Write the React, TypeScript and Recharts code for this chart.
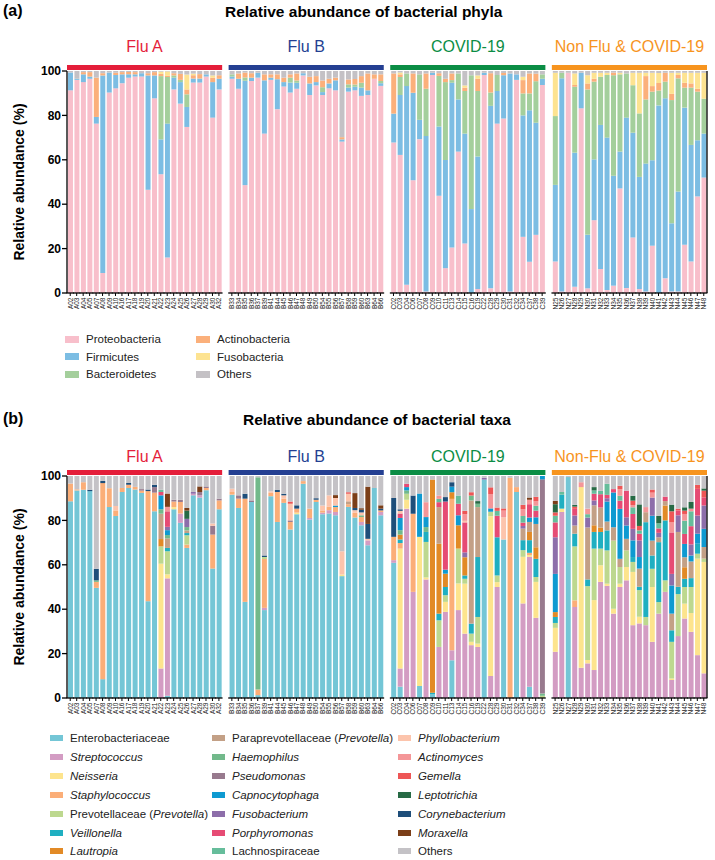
import React from 'react';
import { BarChart, Bar, XAxis, YAxis, ReferenceArea } from 'recharts';

const fluA = ['A02', 'A03', 'A04', 'A05', 'A07', 'A08', 'A09', 'A10', 'A16', 'A17', 'A18', 'A19', 'A20', 'A21', 'A22', 'A23', 'A24', 'A25', 'A26', 'A27', 'A28', 'A29', 'A30', 'A32'];
const fluB = ['B33', 'B34', 'B35', 'B36', 'B37', 'B39', 'B41', 'B44', 'B45', 'B46', 'B47', 'B48', 'B49', 'B50', 'B54', 'B55', 'B56', 'B57', 'B58', 'B59', 'B60', 'B63', 'B64', 'B66'];
const covid = ['C02', 'C03', 'C04', 'C06', 'C07', 'C08', 'C09', 'C10', 'C11', 'C13', 'C14', 'C15', 'C16', 'C19', 'C22', 'C28', 'C29', 'C30', 'C31', 'C32', 'C34', 'C37', 'C38', 'C39'];
const nonFlu = ['N25', 'N26', 'N27', 'N28', 'N29', 'N30', 'N31', 'N32', 'N33', 'N34', 'N35', 'N36', 'N37', 'N38', 'N39', 'N40', 'N41', 'N42', 'N43', 'N44', 'N45', 'N46', 'N47', 'N48'];

const groupNamesA = ['Flu A', 'Flu B', 'COVID-19', 'Non Flu & COVID-19'];
const groupNamesB = ['Flu A', 'Flu B', 'COVID-19', 'Non-Flu & COVID-19'];
const groupColors = ['#E41E3A', '#243F92', '#0B8D45', '#F7941E'];

// ---- panel (a): phyla, % per sample (Flu A / Flu B / COVID / Non-flu rows) ----
const proteobacteria = [
  91.3, 96, 95, 96.5, 76.3, 9, 90.3, 92.2, 94.5, 97, 97.5, 97.5, 46.5, 87.7, 53.5, 16, 91.7, 85.3, 74.8, 94.8, 94.8, 97.5, 79, 91.7,
  96.5, 92, 48.6, 95.5, 97, 71.8, 96, 82.8, 93, 90.3, 92, 98, 89.2, 93.5, 89.2, 92.2, 91.3, 68.2, 90.7, 91.3, 88.8, 89.2, 96.5, 93.3,
  67.8, 62.2, 3.7, 50.8, 69.3, 0.7, 98.2, 43.8, 11.2, 20.5, 63.7, 22.3, 0, 1.8, 98.2, 2.1, 76.3, 78.6, 0.7, 96, 25.3, 14.1, 26.2, 93.7,
  14.2, 0.7, 99.2, 2.8, 83.2, 2.1, 32.8, 10.8, 1.3, 3.3, 47.1, 2.2, 25, 1.8, 0.7, 21.3, 0, 6.6, 0.7, 0.7, 21.7, 14.2, 43.5, 52,
];
const firmicutes = [
  8, 0.5, 3.5, 1, 3, 89, 9, 6, 4, 1.5, 1, 1.5, 51.5, 10.3, 15.7, 60.3, 5.3, 9.7, 9, 1.8, 1.8, 1, 16, 4.8,
  1, 4.5, 47, 1.5, 2.2, 24, 1, 13.5, 2, 4.5, 2.7, 1, 5.2, 1.5, 1.3, 2.2, 4.5, 1, 1.8, 1.6, 3.7, 2.1, 0, 1.2,
  13, 27, 89.5, 39.4, 8.7, 70, 1, 31.2, 48.7, 74.2, 23.5, 49.5, 37.8, 59.7, 1, 82.2, 14.7, 19.5, 98.2, 2.5, 54.7, 68.2, 50.5, 2.8,
  34.5, 96, 0, 60.4, 16, 24.1, 27.4, 64.9, 68.7, 49.5, 16.6, 76.8, 47.2, 50.5, 57.6, 38.5, 84.5, 81.1, 30.7, 45, 61.8, 52.5, 25.3, 19.8,
];
const bacteroidetes = [
  0, 0, 0, 0, 0, 0, 0, 0, 0, 0, 0, 0, 0, 0, 28.5, 21, 1, 1, 5.7, 0, 0, 0, 0, 0,
  1, 0, 1.5, 0, 0, 0, 0, 0, 0, 2.2, 1, 0, 0, 0, 2.2, 0, 0, 0, 1.5, 1, 2.2, 0, 0, 1,
  0, 8.1, 5.7, 0, 20.5, 21.3, 0, 22.8, 35.1, 1.2, 11.7, 19.2, 60.3, 29.5, 0, 6, 7.2, 0, 0, 0, 9.9, 7.6, 18.7, 2,
  31, 2.5, 0, 29.7, 0, 65.5, 35, 21.7, 28.2, 45.3, 34.8, 19.9, 21.4, 28.6, 28.9, 30.9, 6.7, 7.5, 55.5, 51, 9, 25.8, 21.9, 15.7,
];
const actinobacteria = [
  0, 0, 1, 2, 17.7, 1, 0, 1, 1, 1, 1, 0, 1, 1.5, 1, 0.5, 1, 2.7, 2.2, 1.5, 2, 0, 2, 1.6,
  0, 2.4, 2.2, 2, 0, 2.7, 1.5, 2.2, 2, 1.5, 3.2, 0, 3, 2.7, 3, 2.1, 1.2, 1, 2.2, 2.5, 3, 7.6, 2, 3,
  18.1, 1.2, 0, 8.7, 0, 6.9, 0, 1.2, 1.5, 3, 0, 1.5, 0, 5.5, 0, 8.7, 0, 1, 0, 0, 6, 9, 3.4, 0,
  0, 0, 0, 0.8, 0, 2.7, 1.3, 0, 0, 1.2, 0, 0, 0, 0, 10.5, 2.5, 3.4, 4, 2.8, 1.5, 2.2, 1.9, 1.3, 0,
];
const fusobacteria = [
  0, 0, 0, 0, 0, 0, 0, 0, 0, 0, 0, 0, 0, 0, 1, 2, 0, 0, 6.7, 0.7, 0, 0, 1, 0,
  0, 0, 0, 0, 0, 0, 0, 0, 0, 0, 0, 0, 0, 0, 0, 0, 0, 0, 0, 0, 0, 0, 0, 0,
  0, 0.8, 0, 0, 0, 0, 0, 0, 0, 0, 0, 1, 0, 1.5, 0, 0, 0, 0, 0, 0, 1.5, 0, 0, 0,
  19.5, 0, 0, 5.2, 0, 3.7, 2.7, 1.8, 1, 0, 0.7, 0, 5.6, 18.3, 1.5, 6, 4.5, 0, 9.5, 1, 4.5, 4.8, 7.2, 11.7,
];
const otherPhyla = [
  0.7, 3.5, 0.5, 0.5, 3, 1, 0.7, 0.8, 0.5, 0.5, 0.5, 1, 1, 0.5, 0.3, 0.2, 1, 1.3, 1.6, 1.2, 1.4, 1.5, 2, 1.9,
  1.5, 1.1, 0.7, 1, 0.8, 1.5, 1.5, 1.5, 3, 1.5, 1.1, 1, 2.6, 2.3, 4.3, 3.5, 3, 29.8, 3.8, 3.6, 2.3, 1.1, 1.5, 1.5,
  1.1, 0.7, 1.1, 1.1, 1.5, 1.1, 0.8, 1, 3.5, 1.1, 1.1, 6.5, 1.9, 2, 0.8, 1, 1.8, 0.9, 1.1, 1.5, 2.6, 1.1, 1.2, 1.5,
  0.8, 0.8, 0.8, 1.1, 0.8, 1.9, 0.8, 0.8, 0.8, 0.7, 0.8, 1.1, 0.8, 0.8, 0.8, 0.8, 0.9, 0.8, 0.8, 0.8, 0.8, 0.8, 0.8, 0.8,
];

// ---- panel (b): taxa ----
const enterobacteriaceae = [
  88.6, 93.5, 93.8, 93.2, 49.6, 8.5, 86, 82, 92.8, 94.6, 93.9, 92.4, 43.6, 84.1, 0, 1, 85, 78.9, 67.6, 91.3, 90.3, 93.6, 58.3, 85,
  91.6, 85.6, 43.3, 88.3, 1.3, 39.6, 90.9, 79.3, 87.9, 75.9, 82.8, 96.5, 80.4, 88.3, 82.8, 83.1, 82.3, 54.9, 86.1, 81.3, 77.8, 68.8, 94.6, 82.3,
  60.9, 5.1, 0, 0, 5.4, 0, 1.8, 0, 0, 17, 0, 0, 0, 0, 98.4, 0, 0, 71.4, 0, 92.8, 0, 5.1, 0, 0,
  0, 0, 99.5, 0, 0, 0, 0, 0, 0, 0, 0, 0, 0, 0, 0, 0, 0, 0, 0, 0, 0, 0, 0, 0,
];
const streptococcus = [
  0, 0, 0, 0, 0, 0, 0, 0, 0, 0, 0, 0, 0, 0, 13.3, 52.9, 0, 4.2, 0, 0.7, 1, 0, 0, 0,
  0, 0, 0, 0, 0, 1, 0, 0, 0, 0, 0, 0, 0.7, 0, 0.7, 1.5, 1.5, 0, 0, 0, 1.5, 2.2, 0, 1.5,
  1.2, 8.2, 85.3, 47.8, 0, 53.4, 0, 23, 38.8, 4.5, 39.6, 29, 23.8, 23, 0, 9.9, 50, 0, 0, 0, 42.6, 58.5, 36.1, 0,
  20.8, 83.8, 0, 41, 13.6, 15.6, 12.6, 52.3, 50.5, 38, 50, 53, 32.8, 33.6, 32.8, 25.3, 38, 47.8, 8.1, 27.9, 35.8, 29.8, 19.3, 11.1,
];
const neisseria = [
  0, 0, 0, 0, 0, 0, 0, 0, 0, 0, 0, 0, 0, 0, 47.2, 1.8, 1, 0, 0, 0, 0, 0, 0, 0,
  0, 0, 0, 0, 0, 0, 0, 0, 0, 0, 0.7, 0, 0, 0, 0, 0, 0, 0.7, 0, 0, 0, 0, 0, 0,
  0, 54, 4, 0, 67.2, 0.9, 0, 0, 4.5, 0, 12, 22.5, 1.5, 1.5, 0, 72, 2.2, 0, 0, 0, 21, 0.8, 16.2, 0,
  10.8, 1.5, 0, 0, 81.4, 1.5, 31.5, 7.5, 1, 2.2, 1.5, 6, 24, 3, 0, 24.7, 0, 0, 0.7, 0, 6.7, 8.5, 43.5, 50.2,
];
const staphylococcus = [
  8, 0.5, 3.4, 0, 2.7, 88.3, 8.5, 2.5, 1.8, 1.5, 1.2, 1, 49.6, 8.4, 0, 0, 2.5, 5.2, 1.5, 0, 0, 1, 15.3, 4,
  1.2, 4.2, 46.5, 0, 2.5, 22, 1.5, 13.5, 1.9, 3.4, 1.8, 1.2, 4.2, 1, 1, 1.5, 2.2, 0, 1.2, 2.1, 2.2, 0, 0, 0.7,
  10.5, 2.5, 0, 35.2, 0, 0, 0, 0, 0, 68.2, 0, 0, 0, 0, 0, 0, 0, 0, 99.2, 2.2, 0, 1, 0, 0,
  0, 0, 0, 3, 0, 0, 0, 0, 0, 0, 0, 0, 0, 0, 0, 0, 0, 0, 0, 0, 0, 0, 0, 0,
];
const prevotellaceae = [
  0, 0, 0, 0, 0, 0, 0, 0, 0, 0, 0, 0, 0, 0, 7.8, 10.4, 0, 0, 4.2, 0, 0, 0, 0, 0,
  0, 0, 0, 0, 0, 0.9, 0, 0, 0, 0, 0, 0, 0, 0, 0, 0, 0, 0, 0, 0, 0, 0, 0, 0,
  0, 0, 2.7, 0, 0, 16, 0, 12, 3, 0, 15.7, 2.2, 3.7, 12, 0, 2, 3, 0, 0, 0, 3, 0, 2.2, 1,
  2.2, 0, 0, 24.3, 0, 33.3, 23.2, 7.5, 15, 30.7, 7.5, 7.5, 4.5, 12, 3.7, 8.2, 5.2, 5.2, 16.5, 18.9, 7.5, 11.7, 2.2, 1.5,
];
const veillonella = [
  0, 0, 0, 0, 0, 0, 0, 0, 0, 0, 0, 0, 0, 0, 0, 1.5, 0, 0, 1, 0, 0, 0, 0, 0,
  0, 0, 0, 0, 0, 0, 0, 0, 0, 0, 0, 0, 0, 0, 0, 0, 0, 0, 0, 0, 0, 0, 0, 0,
  0, 1.6, 0, 0, 0, 4.5, 0.6, 3, 3.7, 0, 0, 1.5, 4.5, 27, 0, 0, 17.2, 0, 0, 0, 4.5, 5.7, 8.2, 0,
  2.7, 6.3, 0, 5.7, 0, 3, 7.5, 7.5, 9, 0, 0, 0, 2.2, 1.5, 42.7, 6, 27, 27, 5.2, 3.3, 3.7, 4, 4.5, 0,
];
const lautropia = [
  0, 0, 0, 0, 0, 0, 0, 0, 0, 0, 0, 0, 0, 0, 3.3, 0, 0, 0, 0, 0, 0, 0, 0, 0,
  0, 0, 0, 0, 0, 0, 0, 0, 0, 0, 0, 0, 0, 0, 0, 0, 0, 0, 0, 0, 0, 0, 0, 0,
  0, 2.2, 0, 0, 0, 0, 96, 31.5, 6, 3, 10.5, 8.2, 0, 0, 0, 0, 0, 0, 0, 0, 0, 3.7, 5.2, 0,
  2.2, 0, 0, 0, 0, 0, 3, 2, 0, 0, 0, 0, 0, 0, 0, 0, 0, 6.7, 0, 0, 5.2, 0, 0, 0,
];
const paraprevotellaceae = [
  0, 0, 0, 0, 0, 0, 0, 0, 0, 0, 0, 0, 0, 0, 11.4, 4.3, 0, 0, 1.2, 0, 0, 0, 0, 0,
  0, 0, 0, 0, 0, 0, 0, 0, 0, 0, 0, 0, 0, 0, 0, 0, 0, 0, 1.3, 0, 0, 0, 0, 0,
  0, 0, 0, 0, 0, 0, 0, 16.5, 0, 0, 0, 0, 55.5, 22.5, 0, 0, 0, 0, 0, 0, 5.2, 4.5, 10.5, 0,
  0, 0, 0, 3.7, 0, 23.4, 9, 9, 4, 6, 3.7, 5.2, 0, 8.2, 4.5, 6.7, 2.2, 2, 7.5, 24.7, 4.5, 7.5, 0, 5.2,
];
const haemophilus = [
  0, 0, 0, 0, 0.7, 0, 0, 0, 0, 0, 0, 0, 0, 0, 2, 1.5, 0, 0, 1.5, 0, 0, 0, 0, 0,
  0, 0, 0, 0, 95.6, 0, 0, 0, 0, 0, 0, 0, 0, 0, 0, 0, 0, 0, 0, 0, 0.8, 0, 0, 0,
  0, 2, 1.5, 0, 0, 2.2, 0, 0, 0, 0, 0, 0, 2.2, 1.5, 0, 0, 0, 0, 0, 0, 0, 0, 0, 1,
  0, 0, 0, 0, 0, 0, 0, 0, 0, 0, 0, 0, 0, 0, 0, 0, 0, 0, 0, 0, 0, 0, 0, 0,
];
const pseudomonas = [
  0, 0, 0, 0, 0, 0, 0, 0, 0, 0, 0, 0.7, 0, 2.5, 0, 0, 0.8, 1, 0, 0, 1.5, 0.7, 4, 0.8,
  0, 1.5, 0, 0.7, 0, 0, 0, 0, 0, 0.7, 0, 0, 0, 0, 0, 0, 0, 0, 0, 0, 0, 0, 0, 0,
  0, 0, 0, 0, 0, 0, 0, 0, 0, 0, 0, 0, 0, 0, 0, 0, 0, 0, 0, 0, 0, 0, 0, 96.5,
  0, 0, 0, 0, 0, 0, 0, 0, 0, 0, 0, 0, 0, 0, 0, 0, 0, 0, 0, 0, 0, 0, 0, 0,
];
const capnocytophaga = [
  0, 0, 0, 0, 0, 0, 0, 0, 0, 0, 0, 0, 0, 0, 6.3, 2.2, 0, 0, 0, 0, 0, 0, 0, 0,
  0, 0, 0, 0, 0, 0, 0, 0, 0, 0, 0, 0, 0, 0, 0, 0, 0.7, 0, 0, 0, 0, 0, 0, 0,
  0, 5.5, 1.5, 0, 19.5, 4.5, 0, 0, 1.8, 2.5, 4.5, 0, 0, 0, 0, 1.5, 0, 0, 0, 0, 0, 2, 3, 1.5,
  17.2, 0, 0, 0, 0, 0, 0, 0, 9, 15.7, 22.5, 6, 7.5, 5.2, 0, 11.2, 0, 0, 12.7, 0, 6, 2.7, 4.5, 8.2,
];
const fusobacterium = [
  0, 0, 0, 0, 0, 0, 0, 0, 0, 0, 0, 0, 0, 0, 0, 1.5, 0, 0, 3.7, 0.8, 0, 0, 0, 0,
  0, 0, 0, 0, 0, 0, 0, 0, 0, 0, 0, 0, 0, 0, 0, 0, 0, 0, 0, 0, 0, 0, 0, 0,
  0, 0, 0, 0, 0, 0, 0, 0, 0, 0, 0, 2.2, 0, 0, 0.8, 0, 0, 0, 0, 0, 1.2, 0, 0, 0,
  16.5, 0, 0, 4.5, 0, 4.5, 2.2, 0, 1.5, 0, 0, 3.7, 5.2, 7.5, 0, 8.2, 2, 0, 5.2, 7.5, 0, 5, 8.2, 10.5,
];
const porphyromonas = [
  0, 0, 0, 0, 0, 0, 0, 0, 0, 0, 0, 0, 0, 0, 1.5, 7, 0, 0, 0, 0, 0, 0, 0, 0,
  0, 0, 0, 0, 0, 0, 0, 0, 0, 0, 0, 0, 0, 0, 0, 0, 0, 0, 0, 0, 0, 0, 0, 0,
  0, 2, 1.5, 0, 0, 0, 0, 2.2, 30.7, 0, 5.2, 13.5, 0, 0, 0, 0, 9.7, 0, 0, 0, 1.5, 6, 3, 0,
  6.7, 0, 0, 3, 0, 0, 3, 6, 1.5, 1.5, 3.7, 12, 6.7, 3, 0, 0, 2, 2, 18.7, 2.2, 4.5, 8.2, 12, 3.7,
];
const lachnospiraceae = [
  0, 0, 0, 0, 0, 0, 0, 0, 0, 0, 0, 0, 0, 0, 1, 0, 0, 0, 0, 0, 0, 0, 0, 0,
  0, 0, 0, 0, 0, 0, 0, 0, 0, 0, 0, 0, 0, 0, 0, 0, 0, 0, 0, 0, 0, 0, 0, 0,
  0, 0, 0, 0, 0, 0, 0, 1.5, 0, 0, 3.7, 0, 0, 0, 0, 0, 2.2, 0, 0, 0, 3, 0, 2.2, 0,
  3, 1.2, 0, 0, 0, 1.5, 1.5, 1.5, 5, 0, 2.2, 0, 3, 1.5, 0, 0, 2.3, 0, 0, 0, 6, 6.7, 0, 0,
];
const phyllobacterium = [
  0, 0, 0, 0, 0, 0, 0, 2, 0, 0, 0, 0, 0, 0, 0, 0, 0, 0, 0, 0, 0, 0, 1, 0,
  1.5, 0, 0, 0, 0, 0, 0.7, 0, 1.5, 7.5, 0, 0, 0, 0, 2.2, 5.2, 3.4, 10.5, 3.4, 1.2, 1.3, 0.7, 0, 0,
  0, 1.2, 0, 0, 0, 0, 0, 0, 0, 0, 0, 0.7, 0, 0, 0, 0, 0, 10, 0, 0, 0, 0, 0, 0,
  0, 0, 0, 0, 0, 0, 0, 0, 0, 0, 0, 0, 0, 0, 0, 0, 0, 0, 0, 0, 0, 0, 0, 0,
];
const actinomyces = [
  0, 0, 0, 0, 0, 0, 0, 0, 0, 0, 0, 0, 0, 0, 0, 2, 0, 0, 0, 0, 0, 0, 0, 0,
  0, 0, 0, 0, 0, 0, 0, 0, 0, 0, 0, 0, 0, 0, 0, 0, 0, 0, 0, 0, 0, 0, 0, 0,
  0, 0, 0, 0, 0, 6.7, 0, 1.5, 0, 0, 0, 3, 0, 0, 0, 6.5, 0, 3, 0, 0, 3, 2, 2, 0,
  0, 0, 0, 0, 2.2, 2.5, 0, 0, 0, 0, 3, 0, 1, 0, 2.3, 2.2, 0, 0, 4.5, 0, 3, 1.2, 0, 0,
];
const gemella = [
  0, 0, 0, 0, 0, 0, 0, 0, 0, 0, 0, 0, 0, 0, 0, 0, 0, 0, 0, 0, 0, 0, 0, 0,
  0, 0, 0, 0, 0, 0, 0, 0, 0, 1, 0, 0, 0, 0, 0, 0, 0, 0, 0.7, 0, 0, 0, 0, 0,
  0, 0, 0, 0, 0, 0, 0, 0, 0, 0, 0, 1.5, 1.5, 0, 0, 3, 1.5, 1, 0, 0, 2, 0, 2, 0,
  1.5, 0, 0, 1, 0, 0, 0, 0, 0, 0, 1.5, 0, 2, 2, 0, 1.4, 0, 0, 5, 0.8, 1.5, 0, 1.8, 3,
];
const leptotrichia = [
  0, 0, 0, 0, 0, 0, 0, 0, 0, 0, 0, 0, 0, 0, 0, 0, 0, 0, 3.7, 0, 0, 0, 0, 0,
  0, 0, 0, 0, 0, 0, 0, 0, 0, 0, 0, 0, 0, 0, 0, 0, 0, 0, 0, 0, 0, 0, 0, 0,
  0, 0, 0, 0, 0, 0, 0, 0, 0, 0, 0, 0, 0, 1.2, 0, 0, 0, 0, 0, 0, 0, 0, 0, 0,
  3.7, 0, 0, 0.8, 0, 0, 1.5, 0, 0, 0, 0, 0, 2.2, 9.7, 0, 0, 3.3, 0, 3, 0, 1.5, 3, 0, 1,
];
const corynebacterium = [
  0, 0, 0, 0.6, 5.2, 1, 0, 0, 0, 0.7, 0, 0, 0.7, 1, 0, 0, 0, 0, 0, 0, 0, 0, 0, 0,
  0, 0, 2.2, 0, 0, 0.7, 0, 1, 0.7, 0, 1.5, 0, 0, 0.7, 0, 0, 0, 0, 0, 1, 1.2, 6.7, 0, 0.8,
  17.5, 0.7, 0, 8.2, 0, 0, 0, 0, 2, 2, 0, 0, 0, 0, 0, 0, 0, 0, 0, 0, 0, 0, 0, 0,
  0, 0, 0, 0, 0, 0, 0, 0, 0, 0, 0, 0, 0, 0, 0, 0, 0, 0, 0, 0, 0, 0, 0, 0,
];
const moraxella = [
  0, 0, 0, 0, 0, 0, 0, 0, 0, 0, 0, 0, 0, 0, 0, 6, 0, 0, 1.2, 0, 2.5, 0, 0, 0,
  0, 0, 0, 0, 0, 0, 0, 0, 0, 0, 0, 0, 0, 0, 0, 0, 1.3, 0, 0, 6.7, 0.7, 16.8, 0, 1.5,
  0, 0, 0, 0, 0, 0, 0, 0, 0, 0, 0, 0, 0, 0, 0, 0, 0, 0, 0, 0, 0, 1, 0, 0,
  1.5, 0, 0, 0, 0, 0, 0, 0, 0, 0, 0, 0, 0, 0, 0, 0, 0, 0, 0, 0, 0, 0, 0, 0,
];
const otherTaxa = [
  3.4, 6, 2.8, 6.2, 41.8, 2.2, 5.5, 13.5, 5.4, 3.2, 4.9, 5.9, 6.1, 4, 6.2, 7.9, 10.7, 10.7, 14.4, 7.2, 4.7, 4.7, 21.4, 10.2,
  5.7, 8.7, 8, 11, 0.6, 35.8, 6.9, 6.2, 8, 11.5, 13.2, 2.3, 14.7, 10, 13.3, 8.7, 8.6, 33.9, 7.3, 7.7, 14.5, 4.8, 5.4, 13.2,
  9.9, 15, 3.5, 8.8, 7.9, 11.8, 1.6, 8.8, 9.5, 2.8, 8.8, 15.7, 7.3, 11.3, 0.8, 5.1, 14.2, 14.6, 0.8, 5, 13, 9.7, 9.4, 0,
  11.2, 7.2, 0.5, 13, 2.8, 14.7, 5, 6.7, 3.5, 5.9, 4.4, 6.6, 8.9, 12.8, 14, 6.1, 18, 9.3, 12.9, 14.7, 14.1, 11.7, 4, 5.6,
];

type Entry = { key: string; name: string; color: string; values: number[]; italic?: boolean; genus?: string };

const phyla: Entry[] = [
  { key: 'proteo', name: 'Proteobacteria', color: '#F8BFCB', values: proteobacteria },
  { key: 'firm', name: 'Firmicutes', color: '#7CBDE3', values: firmicutes },
  { key: 'bact', name: 'Bacteroidetes', color: '#A4CF9C', values: bacteroidetes },
  { key: 'actin', name: 'Actinobacteria', color: '#FBB07B', values: actinobacteria },
  { key: 'fuso', name: 'Fusobacteria', color: '#FDE391', values: fusobacteria },
  { key: 'other', name: 'Others', color: '#C4C1C5', values: otherPhyla },
];

const taxa: Entry[] = [
  { key: 'ent', name: 'Enterobacteriaceae', color: '#74C6D6', values: enterobacteriaceae },
  { key: 'strep', name: 'Streptococcus', color: '#D39CC3', values: streptococcus, italic: true },
  { key: 'neis', name: 'Neisseria', color: '#FDE48D', values: neisseria, italic: true },
  { key: 'staph', name: 'Staphylococcus', color: '#FBAE78', values: staphylococcus, italic: true },
  { key: 'prev', name: 'Prevotellaceae', genus: 'Prevotella', color: '#BDD88F', values: prevotellaceae },
  { key: 'veil', name: 'Veillonella', color: '#1FAFC1', values: veillonella, italic: true },
  { key: 'laut', name: 'Lautropia', color: '#E28A26', values: lautropia, italic: true },
  { key: 'parap', name: 'Paraprevotellaceae', genus: 'Prevotella', color: '#C3A086', values: paraprevotellaceae },
  { key: 'haem', name: 'Haemophilus', color: '#72B98B', values: haemophilus, italic: true },
  { key: 'pseu', name: 'Pseudomonas', color: '#987A8E', values: pseudomonas, italic: true },
  { key: 'capno', name: 'Capnocytophaga', color: '#0E9AD1', values: capnocytophaga, italic: true },
  { key: 'fuso', name: 'Fusobacterium', color: '#8D6EAA', values: fusobacterium, italic: true },
  { key: 'porph', name: 'Porphyromonas', color: '#E64B74', values: porphyromonas, italic: true },
  { key: 'lachno', name: 'Lachnospiraceae', color: '#66BD9B', values: lachnospiraceae },
  { key: 'phyllo', name: 'Phyllobacterium', color: '#FCC4AC', values: phyllobacterium, italic: true },
  { key: 'actino', name: 'Actinomyces', color: '#F49698', values: actinomyces, italic: true },
  { key: 'gem', name: 'Gemella', color: '#EE5656', values: gemella, italic: true },
  { key: 'lepto', name: 'Leptotrichia', color: '#276A45', values: leptotrichia, italic: true },
  { key: 'cory', name: 'Corynebacterium', color: '#1E4E7A', values: corynebacterium, italic: true },
  { key: 'morax', name: 'Moraxella', color: '#7B3E18', values: moraxella, italic: true },
  { key: 'oth', name: 'Others', color: '#C4C2C6', values: otherTaxa },
];

const sampleGroups = [fluA, fluB, covid, nonFlu];

function buildRows(series: Entry[]) {
  const rows: any[] = [];
  let k = 0;
  sampleGroups.forEach((g, gi) => {
    if (gi > 0) rows.push({ sample: `gap${gi}` });
    g.forEach((s) => {
      const row: any = { sample: s };
      series.forEach((e) => (row[e.key] = e.values[k]));
      rows.push(row);
      k++;
    });
  });
  return rows;
}

const rowsA = buildRows(phyla);
const rowsB = buildRows(taxa);

const FONT = "'Liberation Sans', Arial, Helvetica, sans-serif";
const NARROW = "'Liberation Sans Narrow', 'Arial Narrow', 'Liberation Sans', Arial, sans-serif";
const W = 715;
const H = 330;
const PLOT_LEFT = 67;
const PLOT_RIGHT = 707;
const BAND = (PLOT_RIGHT - PLOT_LEFT) / 99;

const SampleTick = (props: any) => {
  const { x, y, payload } = props;
  const v = String(payload.value);
  if (v.startsWith('gap')) return null;
  return (
    <g transform={`translate(${x},${y})`}>
      <line x1={-BAND / 2 - 0.4} x2={BAND / 2 + 0.4} y1={0} y2={0} stroke="#000" strokeWidth={1.3} />
      <line x1={0} x2={0} y1={0} y2={3} stroke="#000" strokeWidth={1} />
      <text transform="rotate(-90)" x={-4.5} y={0} textAnchor="end" dominantBaseline="central" fontSize={6.5} fill="#222" fontFamily={FONT}>
        {v}
      </text>
    </g>
  );
};

const YTitle = (props: any) => {
  const vb = props.viewBox || { y: 0, height: 0 };
  const cx = 19;
  const cy = vb.y + vb.height / 2;
  return (
    <text x={cx} y={cy} transform={`rotate(-90 ${cx} ${cy})`} textAnchor="middle" dominantBaseline="central" fontSize={14} fontWeight="bold" fontFamily={FONT} fill="#000">
      Relative abundance (%)
    </text>
  );
};

function StackPanel({ rows, series, names, top, labelOffset }: { rows: any[]; series: Entry[]; names: string[]; top: number; labelOffset: number }) {
  return (
    <BarChart
      width={W}
      height={H}
      data={rows}
      margin={{ top, right: W - PLOT_RIGHT - 4, bottom: H - top - 222 - 30, left: PLOT_LEFT - 40 }}
      barCategoryGap="15%"
    >
      <XAxis dataKey="sample" interval={0} height={30} tickSize={0} tickMargin={0} tickLine={false} axisLine={false} tick={<SampleTick />} />
      <YAxis
        type="number"
        domain={[0, 100]}
        ticks={[0, 20, 40, 60, 80, 100]}
        width={40}
        tickSize={5}
        tickMargin={1}
        axisLine={{ stroke: '#000', strokeWidth: 1.3 }}
        tickLine={{ stroke: '#000', strokeWidth: 1.3 }}
        tick={{ fontSize: 12, fontWeight: 'bold', fill: '#000', fontFamily: FONT }}
        label={<YTitle />}
      />
      <YAxis
        yAxisId="r"
        orientation="right"
        type="number"
        domain={[0, 100]}
        ticks={[0, 20, 40, 60, 80, 100]}
        width={4}
        tickSize={4}
        tick={false}
        axisLine={{ stroke: '#000', strokeWidth: 1.3 }}
        tickLine={{ stroke: '#000', strokeWidth: 1.3 }}
      />
      {series.map((e) => (
        <Bar key={e.key} dataKey={e.key} name={e.name} stackId="s" fill={e.color} isAnimationActive={false} />
      ))}
      {sampleGroups.map((g, i) => (
        <ReferenceArea
          key={names[i]}
          x1={g[0]}
          x2={g[g.length - 1]}
          y1={100.4}
          y2={102.7}
          fill={groupColors[i]}
          fillOpacity={1}
          stroke="none"
          ifOverflow="visible"
          label={{ value: names[i], position: 'top', offset: labelOffset, fill: groupColors[i], fontSize: 16, fontFamily: FONT }}
        />
      ))}
    </BarChart>
  );
}

function LegendLabel({ e }: { e: Entry }) {
  if (e.genus) return <span>{e.name} (<i>{e.genus}</i>)</span>;
  if (e.italic) return <i>{e.name}</i>;
  return <span>{e.name}</span>;
}

function LegendBlock({ items, cols, top, rowH, rows, sw, sh }: { items: Entry[]; cols: number[]; top: number; rowH: number; rows: number; sw: number; sh: number }) {
  return (
    <>
      {items.map((e, i) => {
        const c = Math.floor(i / rows);
        const r = i % rows;
        const cy = top + r * rowH;
        return (
          <div key={e.key + i} style={{ position: 'absolute', left: cols[c], top: cy - 8, height: 16, display: 'flex', alignItems: 'center', whiteSpace: 'nowrap' }}>
            <div style={{ width: sw, height: sh, background: e.color, marginRight: 7 }} />
            <div style={{ fontFamily: NARROW, fontSize: 11.5, color: '#222' }}>
              <LegendLabel e={e} />
            </div>
          </div>
        );
      })}
    </>
  );
}

export default function App() {
  return (
    <div style={{ position: 'absolute', left: 0, top: 0, width: W, height: 860, background: '#fff', fontFamily: FONT }}>
      <div style={{ position: 'absolute', left: 3, top: 2, fontSize: 16, fontWeight: 'bold' }}>(a)</div>
      <div style={{ position: 'absolute', left: 225, top: 3, fontSize: 15.5, fontWeight: 'bold' }}>Relative abundance of bacterial phyla</div>
      <div style={{ position: 'absolute', left: 0, top: 0 }}>
        <StackPanel rows={rowsA} series={phyla} names={groupNamesA} top={71} labelOffset={13} />
      </div>
      <LegendBlock items={phyla} cols={[65, 196]} top={339} rowH={17.5} rows={3} sw={14} sh={7} />

      <div style={{ position: 'absolute', left: 3, top: 410, fontSize: 16, fontWeight: 'bold' }}>(b)</div>
      <div style={{ position: 'absolute', left: 243, top: 411, fontSize: 15.5, fontWeight: 'bold' }}>Relative abundance of bacterial taxa</div>
      <div style={{ position: 'absolute', left: 0, top: 400 }}>
        <StackPanel rows={rowsB} series={taxa} names={groupNamesB} top={76} labelOffset={8} />
      </div>
      <LegendBlock items={taxa} cols={[50, 212, 398]} top={738} rowH={18.9} rows={7} sw={13} sh={6} />
    </div>
  );
}
